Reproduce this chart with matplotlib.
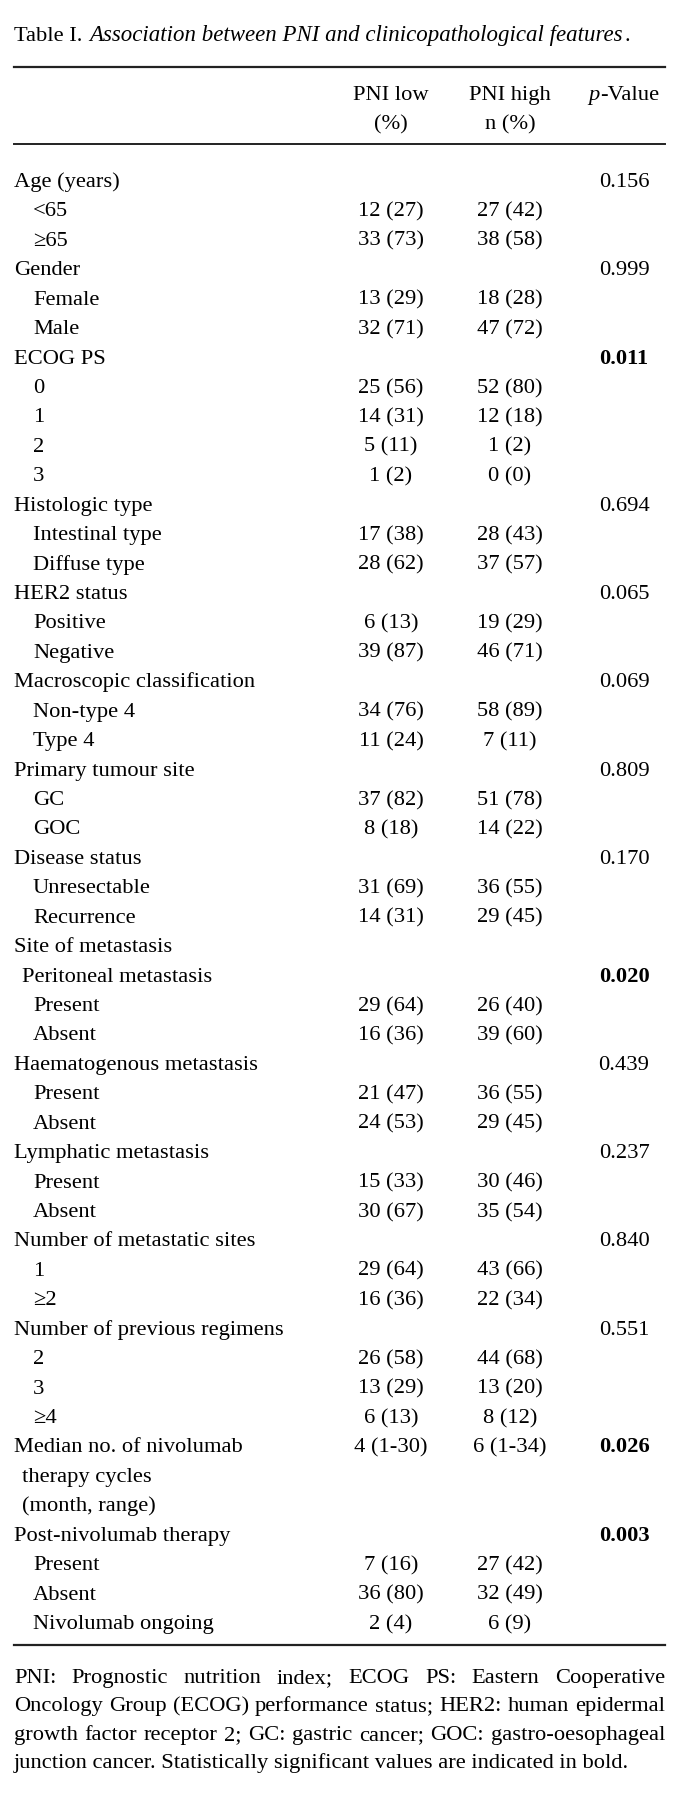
import matplotlib
matplotlib.use('Agg')
import matplotlib.pyplot as plt

# table rows: label, indent level (0 heading, 1 one space, 2 sub item)
row_labels = ['Age (years)', '<65', '≥65',
              'Gender', 'Female', 'Male',
              'ECOG PS', '0', '1', '2', '3',
              'Histologic type', 'Intestinal type', 'Diffuse type',
              'HER2 status', 'Positive', 'Negative',
              'Macroscopic classification', 'Non-type 4', 'Type 4',
              'Primary tumour site', 'GC', 'GOC',
              'Disease status', 'Unresectable', 'Recurrence',
              'Site of metastasis', 'Peritoneal metastasis', 'Present', 'Absent',
              'Haematogenous metastasis', 'Present', 'Absent',
              'Lymphatic metastasis', 'Present', 'Absent',
              'Number of metastatic sites', '1', '≥2',
              'Number of previous regimens', '2', '3', '≥4',
              'Median no. of nivolumab', 'therapy cycles', '(month, range)',
              'Post-nivolumab therapy', 'Present', 'Absent', 'Nivolumab ongoing']
row_indent = [0, 2, 2,
              0, 2, 2,
              0, 2, 2, 2, 2,
              0, 2, 2,
              0, 2, 2,
              0, 2, 2,
              0, 2, 2,
              0, 2, 2,
              0, 1, 2, 2,
              0, 2, 2,
              0, 2, 2,
              0, 2, 2,
              0, 2, 2, 2,
              0, 1, 1,
              0, 2, 2, 2]
pni_low = ['', '12 (27)', '33 (73)',
           '', '13 (29)', '32 (71)',
           '', '25 (56)', '14 (31)', '5 (11)', '1 (2)',
           '', '17 (38)', '28 (62)',
           '', '6 (13)', '39 (87)',
           '', '34 (76)', '11 (24)',
           '', '37 (82)', '8 (18)',
           '', '31 (69)', '14 (31)',
           '', '', '29 (64)', '16 (36)',
           '', '21 (47)', '24 (53)',
           '', '15 (33)', '30 (67)',
           '', '29 (64)', '16 (36)',
           '', '26 (58)', '13 (29)', '6 (13)',
           '4 (1-30)', '', '',
           '', '7 (16)', '36 (80)', '2 (4)']
pni_high = ['', '27 (42)', '38 (58)',
            '', '18 (28)', '47 (72)',
            '', '52 (80)', '12 (18)', '1 (2)', '0 (0)',
            '', '28 (43)', '37 (57)',
            '', '19 (29)', '46 (71)',
            '', '58 (89)', '7 (11)',
            '', '51 (78)', '14 (22)',
            '', '36 (55)', '29 (45)',
            '', '', '26 (40)', '39 (60)',
            '', '36 (55)', '29 (45)',
            '', '30 (46)', '35 (54)',
            '', '43 (66)', '22 (34)',
            '', '44 (68)', '13 (20)', '8 (12)',
            '6 (1-34)', '', '',
            '', '27 (42)', '32 (49)', '6 (9)']
p_values = ['0.156', '', '',
            '0.999', '', '',
            '0.011', '', '', '', '',
            '0.694', '', '',
            '0.065', '', '',
            '0.069', '', '',
            '0.809', '', '',
            '0.170', '', '',
            '', '0.020', '', '',
            '0.439', '', '',
            '0.237', '', '',
            '0.840', '', '',
            '0.551', '', '', '',
            '0.026', '', '',
            '0.003', '', '', '']
p_bold = ['0.011', '0.020', '0.026', '0.003']

footer_lines = [
    'PNI: Prognostic nutrition index; ECOG PS: Eastern Cooperative',
    'Oncology Group (ECOG) performance status; HER2: human epidermal',
    'growth factor receptor 2; GC: gastric cancer; GOC: gastro-oesophageal',
    'junction cancer. Statistically significant values are indicated in bold.',
]

plt.rcParams['font.family'] = ['Liberation Serif', 'DejaVu Serif']
fs = 16.2

W, H = 690, 1805
fig = plt.figure(figsize=(W / 100, H / 100), dpi=100)
ax = fig.add_axes([0, 0, 1, 1])
ax.set_xlim(0, W)
ax.set_ylim(H, 0)
ax.axis('off')

x_left = 14
x_right = 665
col_low, col_high, col_p = 391, 510, 624
indent_px = {0: 0, 1: 8, 2: 19}

fig.canvas.draw()
renderer = fig.canvas.get_renderer()


def width_of(t):
    bb = t.get_window_extent(renderer=renderer)
    return bb.width


# title
t1 = ax.text(x_left, 41, 'Table I.', fontsize=fs, va='baseline', ha='left')
w1 = width_of(t1)
t2 = ax.text(x_left + w1 + 7, 41,
             'Association between PNI and clinicopathological features',
             fontsize=16.5, style='italic', va='baseline', ha='left')
w2 = width_of(t2)
ax.text(x_left + w1 + 7 + w2 + 2, 41, '.', fontsize=fs, va='baseline', ha='left')

# rules
ax.plot([x_left, x_right], [67, 67], color='#222222', lw=1.6)
ax.plot([x_left, x_right], [144, 144], color='#222222', lw=1.4)
ax.plot([x_left, x_right], [1645, 1645], color='#222222', lw=1.6)

# header
ax.text(col_low, 100, 'PNI low', fontsize=fs, ha='center', va='baseline')
ax.text(col_low, 129, '(%)', fontsize=fs, ha='center', va='baseline')
ax.text(col_high, 100, 'PNI high', fontsize=fs, ha='center', va='baseline')
ax.text(col_high, 129, 'n (%)', fontsize=fs, ha='center', va='baseline')
tp = ax.text(0, 100, 'p', fontsize=fs, style='italic', ha='left', va='baseline')
tv = ax.text(0, 100, '-Value', fontsize=fs, ha='left', va='baseline')
wp, wv = width_of(tp), width_of(tv)
start = col_p - (wp + wv + 1) / 2
tp.set_x(start)
tv.set_x(start + wp + 1)

# body
y0 = 187
dy = 29.43
for i, lab in enumerate(row_labels):
    y = y0 + i * dy
    ax.text(x_left + indent_px[row_indent[i]], y, lab, fontsize=fs,
            ha='left', va='baseline')
    if pni_low[i]:
        ax.text(col_low, y, pni_low[i], fontsize=fs, ha='center', va='baseline')
    if pni_high[i]:
        ax.text(col_high, y, pni_high[i], fontsize=fs, ha='center', va='baseline')
    if p_values[i]:
        ax.text(col_p, y, p_values[i], fontsize=fs, ha='center', va='baseline',
                fontweight='bold' if p_values[i] in p_bold else 'normal')

# footer, first lines justified
fy0 = 1683
fdy = 28.4
for j, line in enumerate(footer_lines):
    y = fy0 + j * fdy
    if j == len(footer_lines) - 1:
        ax.text(x_left, y, line, fontsize=fs, ha='left', va='baseline')
        continue
    words = line.split(' ')
    texts = [ax.text(0, y, w, fontsize=fs, ha='left', va='baseline') for w in words]
    widths = [width_of(t) for t in texts]
    gap = (x_right - x_left - sum(widths)) / (len(words) - 1)
    x = x_left
    for t, w in zip(texts, widths):
        t.set_x(x)
        x += w + gap

fig.savefig('out.png', dpi=100)
